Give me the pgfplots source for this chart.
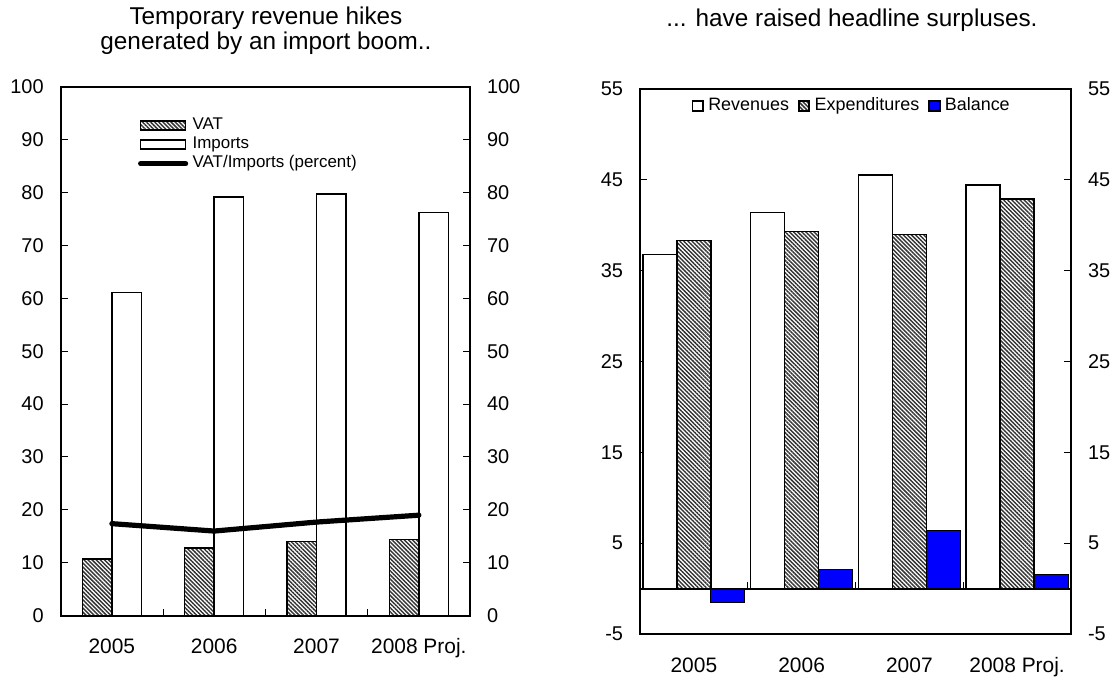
\documentclass[border=0pt]{standalone}
\usepackage{pgfplots}
\pgfplotsset{compat=1.18}
\usepackage{fontspec}
\setmainfont{Liberation Sans}
\usetikzlibrary{patterns.meta}
\definecolor{balblue}{RGB}{0,0,255}
\tikzset{hatch/.style={pattern={Lines[angle=-45,distance=1.45bp,line width=0.72bp]},pattern color=black!80}}
\pgfplotsset{
  common/.style={
    scale only axis,
    xmin=-0.5, xmax=3.5,
    tick align=inside,
    ytick pos=left,
    xtick pos=bottom,
    major tick length=3.5bp,
    tick style={line width=0.5bp, black},
    axis line style={line width=1bp},
    tick label style={font=\fontsize{10}{12}\selectfont},
    /pgf/number format/assume math mode=true,
    yticklabel style={xshift=-5bp},
    extra x ticks={0,1,2,3},
    extra x tick labels={2005,2006,2007,2008 Proj.},
    extra x tick style={major tick length=0pt,
      xticklabel style={yshift=-8bp, font=\fontsize{10.5}{12}\selectfont, text height=7.6bp, text depth=2bp, anchor=north}},
  },
  rightlabels/.style={
    scale only axis,
    xmin=-0.5, xmax=3.5,
    axis x line=none,
    axis y line*=right,
    y axis line style={line width=1bp},
    major tick length=0pt,
    tick label style={font=\fontsize{10}{12}\selectfont},
    /pgf/number format/assume math mode=true,
    yticklabel style={xshift=5bp},
  },
  rectlegend/.style={legend image code/.code={\draw[##1, line width=0.8bp] (0bp,-2.25bp) rectangle (22.5bp,2.25bp);}},
  sqlegend/.style={legend image code/.code={\draw[##1, line width=0.9bp] (0bp,-2.6bp) rectangle (5.2bp,2.6bp);}},
}
\begin{document}
\begin{tikzpicture}
\path[use as bounding box] (0,0) rectangle (559bp,340.5bp);
\node[align=center, font=\fontsize{12.2}{12.5}\selectfont] at (133bp,325bp) {Temporary revenue hikes\\generated by an import boom..};
\node[font=\fontsize{12.2}{13}\selectfont] at (426bp,330.5bp) {... have raised headline surpluses.};

% ---------- Left panel ----------
\begin{axis}[common,
  at={(30.35bp,32.65bp)}, anchor=south west,
  width=204.65bp, height=264.5bp,
  ymin=0, ymax=100, ytick={0,10,...,100},
  ytick pos=both,
  xtick={0.5,1.5,2.5}, xticklabels={},
  legend style={draw=none, fill=none, at={(0.188,0.944)}, anchor=north west,
    inner sep=0pt, font=\fontsize{8.5}{9}\selectfont, row sep=0.5bp,
    nodes={inner sep=1bp, text height=5.6bp, text depth=1.4bp},
    /tikz/every odd column/.append style={column sep=1.2bp}},
  legend cell align=left,
]
\addplot[ybar, bar width=14.75bp, bar shift=-7.375bp, draw=black, line width=0.8bp, hatch, rectlegend]
  coordinates {(0,10.7) (1,12.8) (2,14.0) (3,14.4)};
\addlegendentry{VAT}
\addplot[ybar, bar width=14.75bp, bar shift=7.375bp, draw=black, fill=white, line width=0.8bp, rectlegend]
  coordinates {(0,61.1) (1,79.2) (2,79.7) (3,76.2)};
\addlegendentry{Imports}
\addplot[sharp plot, black, line width=2.6bp, line cap=round, line join=round,
  legend image code/.code={\draw[black, line width=2.6bp, line cap=round] (0bp,0bp) -- (22.5bp,0bp);}]
  coordinates {(0,17.4) (1,16.0) (2,17.7) (3,19.0)};
\addlegendentry{VAT/Imports (percent)}
\end{axis}
\begin{axis}[rightlabels,
  at={(30.35bp,32.65bp)}, anchor=south west,
  width=204.65bp, height=264.5bp,
  ymin=0, ymax=100, ytick={0,10,...,100}]
\end{axis}

% ---------- Right panel ----------
\begin{axis}[common,
  at={(320bp,23.5bp)}, anchor=south west,
  width=215.5bp, height=272.5bp,
  ymin=-5, ymax=55, ytick={-5,5,...,55},
  ytick pos=both,
  xtick=\empty,
  legend columns=3,
  legend style={draw=none, fill=none, at={(0.119,0.987)}, anchor=north west,
    inner sep=0pt, font=\fontsize{9}{10}\selectfont,
    nodes={inner sep=1bp, text height=6bp, text depth=1.5bp},
    /tikz/every odd column/.append style={column sep=1.2bp},
    /tikz/every even column/.append style={column sep=3.5bp}},
]
\addplot[ybar, bar width=17bp, bar shift=-17bp, draw=black, fill=white, line width=0.8bp, sqlegend]
  coordinates {(0,36.8) (1,41.4) (2,45.5) (3,44.4)};
\addlegendentry{Revenues}
\addplot[ybar, bar width=17bp, bar shift=0bp, draw=black, line width=0.8bp, hatch, sqlegend]
  coordinates {(0,38.3) (1,39.3) (2,39.0) (3,42.9)};
\addlegendentry{Expenditures}
\addplot[ybar, bar width=17bp, bar shift=17bp, draw=black, fill=balblue, line width=0.5bp, sqlegend]
  coordinates {(0,-1.5) (1,2.1) (2,6.4) (3,1.5)};
\addlegendentry{Balance}
\end{axis}
\begin{axis}[scale only axis,
  at={(320bp,23.5bp)}, anchor=south west,
  width=215.5bp, height=272.5bp,
  xmin=-0.5, xmax=3.5, ymin=-5, ymax=55,
  axis x line=middle, axis y line=none,
  x axis line style={line width=1bp, -},
  xtick={0.5,1.5,2.5}, xticklabels={},
  tick align=inside, major tick length=3.5bp,
  tick style={line width=0.6bp, black}]
\end{axis}
\begin{axis}[rightlabels,
  at={(320bp,23.5bp)}, anchor=south west,
  width=215.5bp, height=272.5bp,
  ymin=-5, ymax=55, ytick={-5,5,...,55}]
\end{axis}
\end{tikzpicture}
\end{document}
